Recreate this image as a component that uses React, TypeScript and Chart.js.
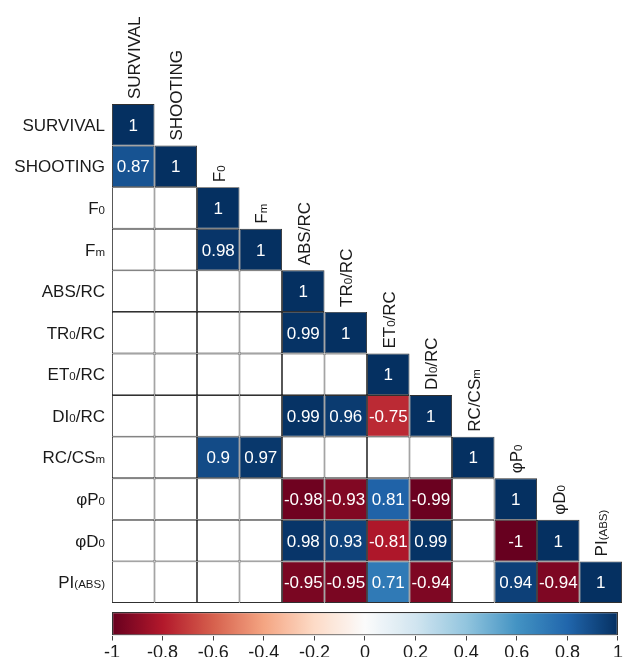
import React, { useEffect, useRef } from "react";
import { Chart, registerables } from "chart.js";

Chart.register(...registerables);

// ---- Data ----
const varMain = ["SURVIVAL", "SHOOTING", "F", "F", "ABS/RC", "TR", "ET", "DI", "RC/CS", "φP", "φD", "PI"];
const varSub = ["", "", "0", "m", "", "0", "0", "0", "m", "0", "0", "(ABS)"];
const varTail = ["", "", "", "", "", "/RC", "/RC", "/RC", "", "", "", ""];

const rowSurvival = [1];
const rowShooting = [0.87, 1];
const rowF0 = [null, null, 1];
const rowFm = [null, null, 0.98, 1];
const rowAbsRc = [null, null, null, null, 1];
const rowTr0Rc = [null, null, null, null, 0.99, 1];
const rowEt0Rc = [null, null, null, null, null, null, 1];
const rowDi0Rc = [null, null, null, null, 0.99, 0.96, -0.75, 1];
const rowRcCsm = [null, null, 0.9, 0.97, null, null, null, null, 1];
const rowPhiP0 = [null, null, null, null, -0.98, -0.93, 0.81, -0.99, null, 1];
const rowPhiD0 = [null, null, null, null, 0.98, 0.93, -0.81, 0.99, null, -1, 1];
const rowPiAbs = [null, null, null, null, -0.95, -0.95, 0.71, -0.94, null, 0.94, -0.94, 1];

const colorbarMin = -1;
const colorbarMax = 1;
const colorbarStep = 0.2;

const rows: (number | null)[][] = [
  rowSurvival, rowShooting, rowF0, rowFm, rowAbsRc, rowTr0Rc,
  rowEt0Rc, rowDi0Rc, rowRcCsm, rowPhiP0, rowPhiD0, rowPiAbs,
];

// ---- Colormap (RdBu) ----
const cmapStops: [number, string][] = [
  [-1, "#67001f"], [-0.8, "#b2182b"], [-0.6, "#d6604d"], [-0.4, "#f4a582"],
  [-0.2, "#fddbc7"], [0, "#fbfbfb"], [0.2, "#d1e5f0"], [0.4, "#92c5de"],
  [0.6, "#4393c3"], [0.8, "#2166ac"], [1, "#053061"],
];
function hex(h: string) {
  return [parseInt(h.slice(1, 3), 16), parseInt(h.slice(3, 5), 16), parseInt(h.slice(5, 7), 16)];
}
function cmap(v: number) {
  for (let k = 0; k < cmapStops.length - 1; k++) {
    const [a, ca] = cmapStops[k];
    const [b, cb] = cmapStops[k + 1];
    if (v >= a && v <= b) {
      const t = (v - a) / (b - a);
      const A = hex(ca), B = hex(cb);
      const c = A.map((x, i) => Math.round(x + (B[i] - x) * t));
      return `rgb(${c[0]},${c[1]},${c[2]})`;
    }
  }
  return v < 0 ? cmapStops[0][1] : cmapStops[cmapStops.length - 1][1];
}

const FONT = '"Liberation Sans", Arial, sans-serif';
const MAIN_SIZE = 17;
const SUB_SIZE = 11.5;

function segments(i: number): [string, number][] {
  return [
    [varMain[i], MAIN_SIZE],
    [varSub[i], SUB_SIZE],
    [varTail[i], MAIN_SIZE],
  ];
}
function drawLabel(ctx: CanvasRenderingContext2D, i: number, x: number, baseline: number) {
  let cx = x;
  for (const [t, s] of segments(i)) {
    if (!t) continue;
    ctx.font = `${s}px ${FONT}`;
    ctx.fillText(t, cx, baseline);
    cx += ctx.measureText(t).width;
  }
}
function labelWidth(ctx: CanvasRenderingContext2D, i: number) {
  let w = 0;
  for (const [t, s] of segments(i)) {
    if (!t) continue;
    ctx.font = `${s}px ${FONT}`;
    w += ctx.measureText(t).width;
  }
  return w;
}

const labelsPlugin = {
  id: "corrLabels",
  afterDatasetsDraw(chart: any) {
    const ctx = chart.ctx as CanvasRenderingContext2D;
    const xs = chart.scales.x;
    const ys = chart.scales.y;
    const area = chart.chartArea;
    ctx.save();
    // cell values
    ctx.fillStyle = "#ffffff";
    ctx.textAlign = "center";
    ctx.textBaseline = "alphabetic";
    ctx.font = `${MAIN_SIZE}px ${FONT}`;
    chart.data.datasets.forEach((ds: any, di: number) => {
      const meta = chart.getDatasetMeta(di);
      meta.data.forEach((el: any, j: number) => {
        const v = ds.values[j];
        if (v === null || v === undefined) return;
        const cy = (el.y + el.base) / 2;
        ctx.fillText(String(v), el.x, cy + 6);
      });
    });
    // row labels
    ctx.fillStyle = "#1a1a1a";
    ctx.textAlign = "left";
    for (let i = 0; i < varMain.length; i++) {
      const y = ys.getPixelForValue(i);
      const w = labelWidth(ctx, i);
      drawLabel(ctx, i, area.left - 7 - w, y + 6);
    }
    // column labels (rotated)
    for (let j = 0; j < varMain.length; j++) {
      const x = xs.getPixelForValue(j);
      const yTop = ys.getPixelForValue(j - 0.5);
      ctx.save();
      ctx.translate(x + 6.5, yTop - 5);
      ctx.rotate(-Math.PI / 2);
      drawLabel(ctx, j, 0, 0);
      ctx.restore();
    }
    ctx.restore();
  },
};

export default function App() {
  const mainRef = useRef<HTMLCanvasElement>(null);
  const cbRef = useRef<HTMLCanvasElement>(null);

  useEffect(() => {
    const n = varMain.length;
    const datasets = rows.map((row, i) => {
      const data: any[] = [];
      const colors: string[] = [];
      const values: (number | null)[] = [];
      for (let j = 0; j < n; j++) {
        if (j <= i) {
          data.push([i - 0.5, i + 0.5]);
          const v = row[j] === undefined ? null : row[j];
          values.push(v);
          colors.push(v === null ? "#ffffff" : cmap(v));
        } else {
          data.push(null);
          values.push(null);
          colors.push("#ffffff");
        }
      }
      return {
        label: varMain[i] + varSub[i] + varTail[i],
        data,
        values,
        backgroundColor: colors,
        borderColor: "#303030",
        borderWidth: 0.9,
        borderSkipped: false,
        barPercentage: 1,
        categoryPercentage: 1,
        grouped: false,
        inflateAmount: 0,
      };
    });

    const main = new Chart(mainRef.current!, {
      type: "bar",
      data: { labels: varMain.map((_, j) => String(j)), datasets: datasets as any },
      options: {
        animation: false,
        responsive: false,
        events: [],
        layout: { padding: { left: 112, right: 3, top: 104, bottom: 54 } },
        plugins: { legend: { display: false }, tooltip: { enabled: false } },
        scales: {
          x: { type: "category", display: false, offset: true },
          y: { type: "linear", display: false, min: -0.5, max: 11.5, reverse: true },
        },
      } as any,
      plugins: [labelsPlugin],
    });

    const cb = new Chart(cbRef.current!, {
      type: "bar",
      data: {
        labels: ["cb"],
        datasets: [
          {
            data: [[colorbarMin, colorbarMax]],
            backgroundColor: (c: any) => {
              const area = c.chart.chartArea;
              if (!area) return "#fff";
              const g = c.chart.ctx.createLinearGradient(area.left, 0, area.right, 0);
              for (let k = 0; k <= 100; k++) {
                const v = colorbarMin + ((colorbarMax - colorbarMin) * k) / 100;
                g.addColorStop(k / 100, cmap(v));
              }
              return g;
            },
            borderColor: "#333",
            borderWidth: 1.2,
            borderSkipped: false,
            barPercentage: 1,
            categoryPercentage: 1,
            inflateAmount: 0,
          } as any,
        ],
      },
      options: {
        animation: false,
        responsive: false,
        events: [],
        indexAxis: "y",
        layout: { padding: { left: 112, right: 3, top: 15, bottom: 0 } },
        plugins: { legend: { display: false }, tooltip: { enabled: false } },
        scales: {
          x: {
            type: "linear",
            min: colorbarMin,
            max: colorbarMax,
            border: { display: false },
            grid: { drawOnChartArea: false, drawTicks: true, tickLength: 5, color: "#444", lineWidth: 1 },
            ticks: {
              stepSize: colorbarStep,
              color: "#1a1a1a",
              padding: 2,
              maxRotation: 0,
              font: { family: FONT, size: 18 },
              callback: (v: any) => String(Math.round(Number(v) * 10) / 10),
            },
          },
          y: { display: false },
        },
      } as any,
    });

    return () => {
      main.destroy();
      cb.destroy();
    };
  }, []);

  return (
    <div style={{ position: "fixed", left: 0, top: 0, width: 625, height: 657, overflow: "hidden", background: "#fff" }}>
      <canvas ref={mainRef} width={625} height={657} style={{ position: "absolute", left: 0, top: 0, width: 625, height: 657 }} />
      <canvas ref={cbRef} width={625} height={62} style={{ position: "absolute", left: 0, top: 597, width: 625, height: 62 }} />
    </div>
  );
}
